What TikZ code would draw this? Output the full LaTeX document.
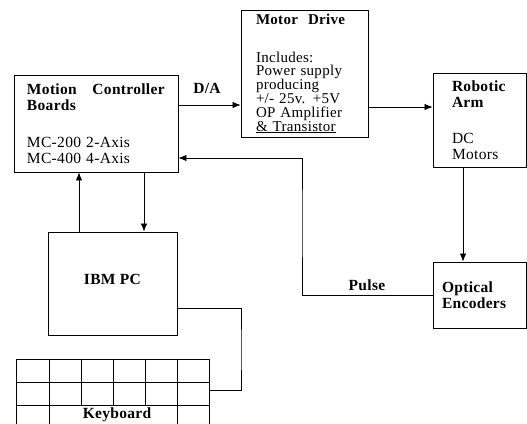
\documentclass[tikz,border=0pt]{standalone}
\usepackage{fontspec}
\setmainfont{Liberation Serif}[LetterSpace=2]
\usetikzlibrary{positioning,arrows.meta}

\begin{document}
\begin{tikzpicture}[
  x=1pt, y=-1pt,
  font=\fontsize{15.5}{15.5}\selectfont,
  block/.style={draw=black, line width=.9pt, inner sep=0pt, align=left},
  arrow/.style={-{Latex[length=8pt,width=6.5pt]}, draw=black, line width=.8pt},
  link/.style={draw=black, line width=.8pt},
  lbl/.style={font=\fontsize{15.5}{15.5}\selectfont\bfseries, inner sep=0pt}
]
\useasboundingbox (0,0) rectangle (527,423);
\node[block, minimum width=164, minimum height=97, text width=138] (mc) at (96,123.5) {\textbf{Motion\hfill Controller}\\ \textbf{Boards}\\[22pt] MC-200 2-Axis\\ MC-400 4-Axis};
\node[block, minimum width=127, minimum height=127, text width=97, font=\fontsize{15}{13.8}\selectfont] (md) at (304.5,73.5) {\textbf{Motor\ \ Drive}\\[24pt] Includes:\\ Power supply\\ producing\\ +/- 25v. +5V\\ OP Amplifier\\ \underline{\&\ Transistor}};
\node[block, minimum width=93, minimum height=94, text width=55] (ra) at (479.5,120) {\textbf{Robotic}\\ \textbf{Arm}\\[21pt] DC\\ Motors};
\node[block, minimum width=93, minimum height=66, text width=75] (opt) at (479.5,295) {\textbf{Optical}\\ \textbf{Encoders}};
\node[block, minimum width=129, minimum height=103, align=center] (ibm) at (112.5,283.5) {\textbf{IBM\ PC}\\[-7.5pt]};
\node[block, minimum width=193, minimum height=68] (kbd) at (112.5,393) {};
\node[lbl] (kbdname) at (117,415) {Keyboard};
\node[lbl] (da) at (207,88) {D/A};
\node[lbl] (pulse) at (367,285) {Pulse};
% keys of the keyboard
\draw[link] (16,382) -- (209,382);
\draw[link] (16,405) -- (209,405);
\foreach \x in {49,81,113,145,177}
  \draw[link] (\x,359) -- (\x,405);
\draw[link] (49,405) -- (49,427);
\draw[link] (177,405) -- (177,427);
% connectors
\coordinate (fbk) at (302,220);
\coordinate (kbend) at (241,350);
\draw[arrow] ([yshift=18.5]mc.east) -- ([yshift=18.5]mc.east -| md.west);
\draw[arrow] ([yshift=-33.5]md.east) -- ([yshift=-33.5]md.east -| ra.west);
\draw[arrow] ([xshift=-16.5]ra.south) -- ([xshift=-16.5]ra.south |- opt.north);
\draw[arrow] (opt.west) -| (fbk) |- ([yshift=-34.5]mc.east);
\draw[arrow] ([xshift=-33.5]ibm.north) -- ([xshift=-33.5]ibm.north |- mc.south);
\draw[arrow] ([xshift=48]mc.south) -- ([xshift=48]mc.south |- ibm.north);
\draw[link] ([yshift=-24.5]ibm.east) -| (kbend) |- ([yshift=3]kbd.east);
\end{tikzpicture}
\end{document}
